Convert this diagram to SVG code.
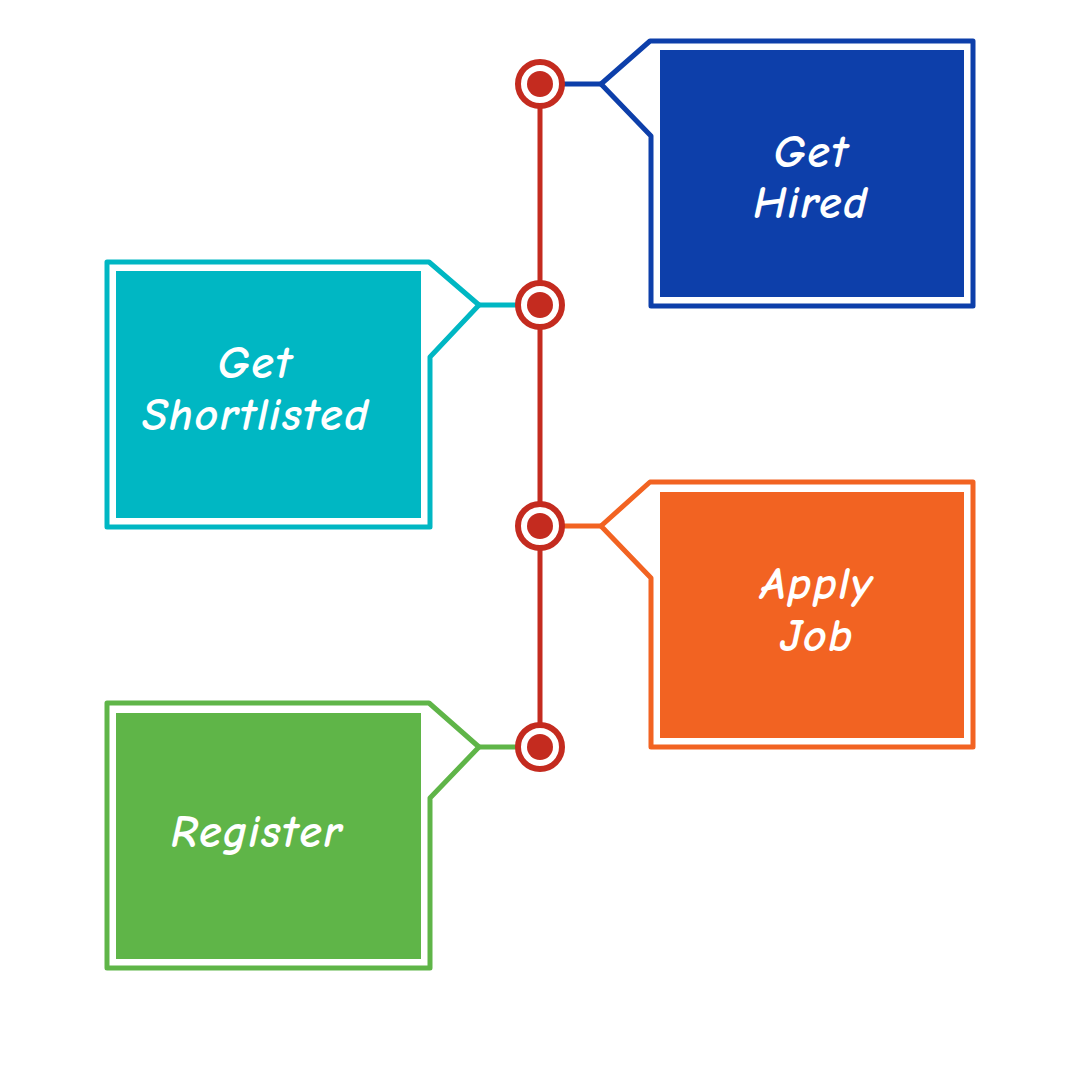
<svg xmlns="http://www.w3.org/2000/svg" width="1080" height="1080" viewBox="0 0 1080 1080">
<style>
.frame{fill:none;stroke-width:5;stroke-linejoin:round}
.lbl{font-family:"Comic Sans MS","Comic Neue","DejaVu Sans",sans-serif;font-style:italic;font-weight:bold;font-size:46px;letter-spacing:1.5px;fill:#ffffff;text-anchor:middle}
.spine{stroke:#C42B1F;stroke-width:5;fill:none}
.ring{fill:#ffffff;stroke:#C42B1F;stroke-width:6}
.dot{fill:#C42B1F}
</style>
<rect width="1080" height="1080" fill="#ffffff"/>
<g id="connectors">
<line class="spine" x1="540" y1="84" x2="540" y2="747"/>
<line x1="560" y1="84" x2="601" y2="84" stroke="#0D3FAA" stroke-width="5"/>
<line x1="479" y1="305" x2="520" y2="305" stroke="#00B7C3" stroke-width="5"/>
<line x1="560" y1="526" x2="601" y2="526" stroke="#F26322" stroke-width="5"/>
<line x1="479" y1="747" x2="520" y2="747" stroke="#5FB548" stroke-width="5"/>
</g>
<g id="node-hired">
<path class="frame" stroke="#0D3FAA" d="M601,84 L650,41 L973,41 L973,306 L651,306 L651,136 Z"/>
<rect x="660" y="50" width="304" height="247" fill="#0D3FAA"/>
<text class="lbl" x="811" y="167">Get</text>
<text class="lbl" x="811" y="218">Hired</text>
</g>
<g id="node-shortlisted">
<path class="frame" stroke="#00B7C3" d="M479,305 L429,262 L107,262 L107,527 L430,527 L430,357 Z"/>
<rect x="116" y="271" width="305" height="247" fill="#00B7C3"/>
<text class="lbl" x="255" y="378">Get</text>
<text class="lbl" x="256" y="430">Shortlisted</text>
</g>
<g id="node-apply">
<path class="frame" stroke="#F26322" d="M601,526 L650,482 L973,482 L973,747 L651,747 L651,578 Z"/>
<rect x="660" y="492" width="304" height="246" fill="#F26322"/>
<text class="lbl" x="817" y="599">Apply</text>
<text class="lbl" x="817" y="651">Job</text>
</g>
<g id="node-register">
<path class="frame" stroke="#5FB548" d="M479,747 L429,703 L107,703 L107,968 L430,968 L430,798 Z"/>
<rect x="116" y="713" width="305" height="246" fill="#5FB548"/>
<text class="lbl" x="257" y="847">Register</text>
</g>
<g id="markers">
<circle class="ring" cx="540" cy="84" r="22"/><circle class="dot" cx="540" cy="84" r="13"/>
<circle class="ring" cx="540" cy="305" r="22"/><circle class="dot" cx="540" cy="305" r="13"/>
<circle class="ring" cx="540" cy="526" r="22"/><circle class="dot" cx="540" cy="526" r="13"/>
<circle class="ring" cx="540" cy="747" r="22"/><circle class="dot" cx="540" cy="747" r="13"/>
</g>
</svg>
